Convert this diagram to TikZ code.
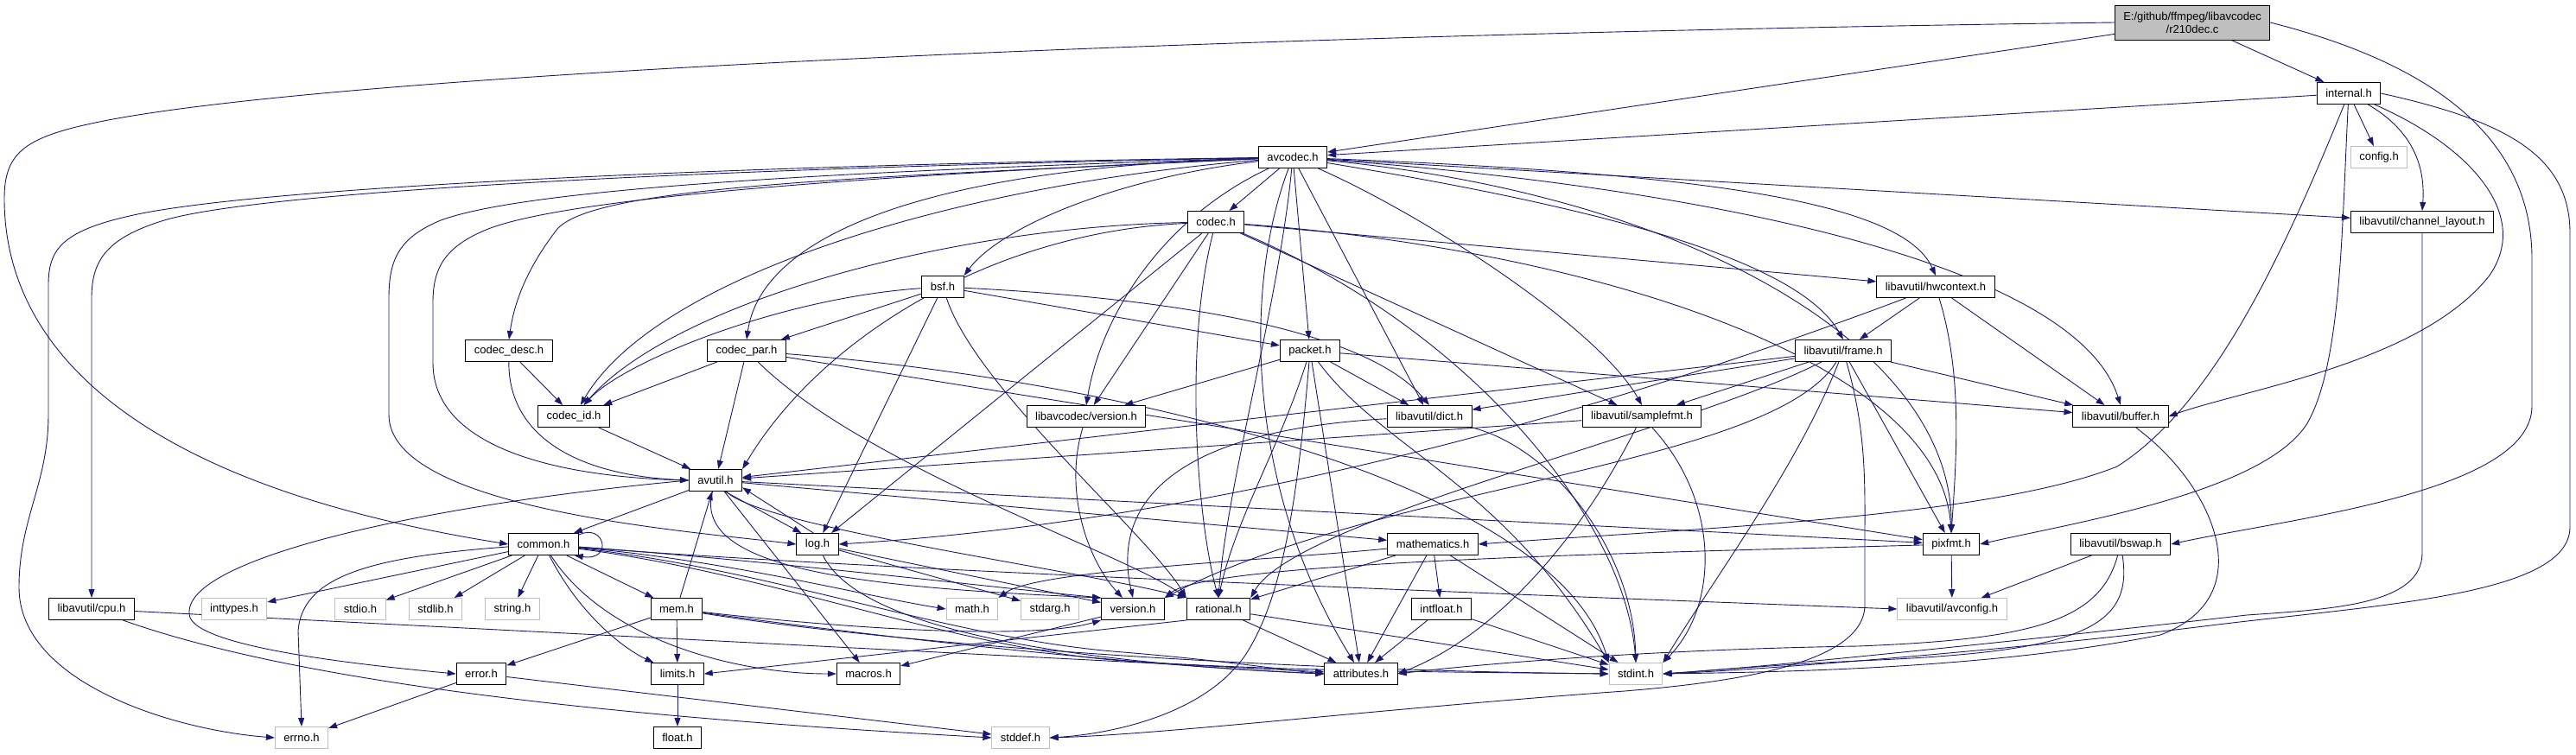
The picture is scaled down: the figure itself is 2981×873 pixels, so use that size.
\documentclass[tikz,border=0pt]{standalone}
\usepackage{fontspec}
\setmainfont{Liberation Sans}
\usetikzlibrary{arrows.meta}
\definecolor{edgec}{HTML}{191970}
\definecolor{gbord}{HTML}{BFBFBF}
\pgfdeclarelayer{back}
\pgfdeclarelayer{bg}
\pgfsetlayers{back,bg,main}
\begin{document}
\begin{tikzpicture}[x=1pt,y=-1pt,
  nd/.style={draw=black,line width=1pt,fill=white,minimum height=25pt,inner xsep=10pt,inner ysep=0pt,font=\fontsize{13}{15}\selectfont},
  gnd/.style={nd,draw=gbord},
  rootnd/.style={nd,fill=gbord,minimum height=40pt,align=center},
  e/.style={draw=edgec,line width=0.9pt,-{Triangle[length=10pt,width=7pt]}}]
\begin{pgfonlayer}{back}
\fill[white] (0,0) rectangle (2981,873);
\end{pgfonlayer}
\useasboundingbox (0,0) rectangle (2981,873);
% nodes
\node[rootnd] (root) at (2537,26) {E:/github/ffmpeg/libavcodec\\/r210dec.c};
\node[nd] (internal) at (2718,108) {internal.h};
\node[gnd] (config) at (2753,182) {config.h};
\node[nd] (chlayout) at (2803,257) {libavutil/channel\_layout.h};
\node[nd] (avcodec) at (1496,182) {avcodec.h};
\node[nd] (codec) at (1407,257) {codec.h};
\node[nd] (bsf) at (1091,332) {bsf.h};
\node[nd] (hwcontext) at (2240,332) {libavutil/hwcontext.h};
\node[nd] (codecdesc) at (589,406) {codec\_desc.h};
\node[nd] (codecpar) at (864,406) {codec\_par.h};
\node[nd] (packet) at (1516,406) {packet.h};
\node[nd] (frame) at (2133,406) {libavutil/frame.h};
\node[nd] (codecid) at (664,482) {codec\_id.h};
\node[nd] (lcversion) at (1257,482) {libavcodec/version.h};
\node[nd] (dict) at (1654,482) {libavutil/dict.h};
\node[nd] (samplefmt) at (1900,482) {libavutil/samplefmt.h};
\node[nd] (buffer) at (2454,482) {libavutil/buffer.h};
\node[nd] (avutil) at (828,556) {avutil.h};
\node[nd] (common) at (629,630) {common.h};
\node[nd] (log) at (946,630) {log.h};
\node[nd] (mathematics) at (1658,630) {mathematics.h};
\node[nd] (pixfmt) at (2258,630) {pixfmt.h};
\node[nd] (bswap) at (2454,630) {libavutil/bswap.h};
\node[nd] (cpu) at (106,705) {libavutil/cpu.h};
\node[gnd] (inttypes) at (271,705) {inttypes.h};
\node[gnd] (stdio) at (417,705) {stdio.h};
\node[gnd] (stdlib) at (504,705) {stdlib.h};
\node[gnd] (string) at (593,705) {string.h};
\node[nd] (mem) at (783,705) {mem.h};
\node[gnd] (math) at (1125,705) {math.h};
\node[gnd] (stdarg) at (1215,705) {stdarg.h};
\node[nd] (version) at (1311,705) {version.h};
\node[nd] (rational) at (1410,705) {rational.h};
\node[nd] (intfloat) at (1668,705) {intfloat.h};
\node[gnd] (avconfig) at (2259,705) {libavutil/avconfig.h};
\node[nd] (error) at (557,780) {error.h};
\node[nd] (limits) at (784,780) {limits.h};
\node[nd] (macros) at (1005,780) {macros.h};
\node[nd] (attributes) at (1575,780) {attributes.h};
\node[gnd] (stdint) at (1893,780) {stdint.h};
\node[gnd] (errno) at (349,854) {errno.h};
\node[nd] (float) at (784,854) {float.h};
\node[gnd] (stddef) at (1181,854) {stddef.h};
\begin{pgfonlayer}{bg}
% root
\draw[e] (root) -- (avcodec);
\draw[e] (root) -- (internal);
\draw[e] (root.west) .. controls (1400,40) and (400,85) .. (120,140) .. controls (30,158) and (5,175) .. (5,230) .. controls (5,400) and (150,560) .. (common.west);
\draw[e] (root.east) .. controls (2800,70) and (2930,150) .. (2930,300) -- (2930,470) .. controls (2930,570) and (2650,600) .. (bswap.east);
% internal
\draw[e] (internal) -- (avcodec);
\draw[e] (internal) -- (config);
\draw[e] (internal) .. controls (2790,150) and (2807,190) .. (chlayout.north);
\draw[e] (internal) .. controls (2640,300) and (2560,470) .. (2450,540) .. controls (2300,600) and (1950,612) .. (mathematics.east);
\draw[e] (internal) .. controls (2710,260) and (2710,420) .. (2670,490) .. controls (2620,570) and (2400,605) .. (pixfmt.east);
\draw[e] (internal) .. controls (2860,170) and (2930,250) .. (2880,320) .. controls (2800,420) and (2600,450) .. (buffer.east);
\draw[e] (internal.east) .. controls (2900,140) and (2974,180) .. (2974,270) -- (2974,610) .. controls (2974,690) and (2750,700) .. (2550,725) .. controls (2350,750) and (2050,775) .. (stdint.east);
% channel layout
\draw[e] (chlayout) -- (2803,640) .. controls (2803,700) and (2700,705) .. (2600,712) .. controls (2400,735) and (2050,772) .. (stdint.east);
% avcodec
\draw[e] (avcodec) .. controls (900,190) and (300,215) .. (150,250) .. controls (70,268) and (56,290) .. (56,330) -- (56,480) .. controls (56,560) and (22,600) .. (22,680) .. controls (22,790) and (200,845) .. (errno.west);
\draw[e] (avcodec) .. controls (800,195) and (300,222) .. (190,255) .. controls (125,275) and (106,300) .. (106,345) -- (cpu.north);
\draw[e] (avcodec) .. controls (900,200) and (600,222) .. (510,255) .. controls (462,275) and (450,300) .. (450,345) -- (450,480) .. controls (450,590) and (800,615) .. (log.west);
\draw[e] (avcodec) .. controls (950,205) and (650,232) .. (565,265) .. controls (515,285) and (501,310) .. (501,350) -- (501,420) .. controls (501,520) and (650,552) .. (avutil.west);
\draw[e] (avcodec) .. controls (1000,205) and (690,215) .. (645,265) .. controls (610,310) and (595,350) .. (codecdesc.north);
\draw[e] (avcodec) .. controls (1050,195) and (880,280) .. (codecpar.north);
\draw[e] (avcodec) .. controls (1300,205) and (1160,260) .. (bsf.north east);
\draw[e] (avcodec) -- (codec);
\draw[e] (avcodec) .. controls (1100,215) and (760,320) .. (codecid);
\draw[e] (avcodec) .. controls (1350,250) and (1275,360) .. (lcversion.north);
\draw[e] (avcodec) -- (packet);
\draw[e] (avcodec) -- (dict);
\draw[e] (avcodec) .. controls (1650,250) and (1850,380) .. (samplefmt.north);
\draw[e] (avcodec) .. controls (1440,330) and (1440,560) .. (attributes);
\draw[e] (avcodec) .. controls (1480,350) and (1420,560) .. (rational.north);
\draw[e] (avcodec) .. controls (1950,215) and (2400,300) .. (buffer.north);
\draw[e] (avcodec) -- (chlayout);
\draw[e] (avcodec) .. controls (1950,225) and (2260,400) .. (pixfmt.north);
\draw[e] (avcodec) .. controls (1850,240) and (2080,300) .. (frame.north);
\draw[e] (avcodec) .. controls (1950,200) and (2200,230) .. (hwcontext.north);
% codec
\draw[e] (codec) .. controls (1700,380) and (1880,600) .. (stdint.north);
\draw[e] (codec) .. controls (1150,268) and (950,390) .. (avutil.north east);
\draw[e] (codec) -- (hwcontext);
\draw[e] (codec) -- (log);
\draw[e] (codec) .. controls (1850,290) and (2245,420) .. (pixfmt.north);
\draw[e] (codec) .. controls (1370,400) and (1385,600) .. (rational.north);
\draw[e] (codec) -- (samplefmt);
\draw[e] (codec) .. controls (1100,262) and (780,350) .. (codecid);
\draw[e] (codec) -- (lcversion);
% bsf
\draw[e] (bsf) .. controls (1350,345) and (1580,380) .. (dict.north);
\draw[e] (bsf) -- (log);
\draw[e] (bsf) .. controls (1130,450) and (1330,620) .. (rational.north west);
\draw[e] (bsf) .. controls (900,345) and (720,420) .. (codecid);
\draw[e] (bsf) -- (codecpar);
\draw[e] (bsf) -- (packet);
% codec_desc, codec_id
\draw[e] (codecdesc) .. controls (588,500) and (660,550) .. (avutil.west);
\draw[e] (codecdesc) -- (codecid);
\draw[e] (codecid) -- (avutil);
% codec_par
\draw[e] (codecpar) .. controls (1300,440) and (1800,560) .. (stdint.north west);
\draw[e] (codecpar) -- (avutil);
\draw[e] (codecpar) .. controls (1000,540) and (1300,640) .. (rational.north west);
\draw[e] (codecpar) -- (pixfmt);
\draw[e] (codecpar) -- (codecid);
% packet
\draw[e] (packet) .. controls (1500,600) and (1480,700) .. (1440,760) .. controls (1390,830) and (1280,850) .. (stddef.east);
\draw[e] (packet) .. controls (1600,520) and (1740,560) .. (stdint.north west);
\draw[e] (packet) -- (attributes);
\draw[e] (packet) -- (buffer);
\draw[e] (packet) -- (dict);
\draw[e] (packet) .. controls (1480,520) and (1430,600) .. (rational.north);
\draw[e] (packet) -- (lcversion);
% libavcodec/version
\draw[e] (lcversion) .. controls (1230,570) and (1260,650) .. (version);
% hwcontext
\draw[e] (hwcontext) -- (buffer);
\draw[e] (hwcontext) -- (frame);
\draw[e] (hwcontext) .. controls (1900,460) and (1450,600) .. (log.east);
\draw[e] (hwcontext) .. controls (2270,430) and (2265,520) .. (pixfmt.north);
% frame
\draw[e] (frame) .. controls (2160,500) and (2158,560) .. (2158,620) -- (2158,700) .. controls (2158,770) and (2000,790) .. (1880,800) .. controls (1600,820) and (1350,850) .. (stddef.east);
\draw[e] (frame) .. controls (2080,540) and (1990,660) .. (stdint.north east);
\draw[e] (frame) -- (avutil);
\draw[e] (frame) -- (buffer);
\draw[e] (frame) -- (dict);
\draw[e] (frame) .. controls (1950,500) and (1500,600) .. (rational.north east);
\draw[e] (frame) -- (samplefmt);
\draw[e] (frame) -- (pixfmt);
\draw[e] (frame) .. controls (2050,540) and (1600,560) .. (version.north east);
% samplefmt
\draw[e] (samplefmt) -- (avutil);
\draw[e] (samplefmt) .. controls (1820,640) and (1720,740) .. (attributes.east);
\draw[e] (samplefmt) .. controls (1990,580) and (1990,700) .. (stdint.north east);
% dict
\draw[e] (dict) .. controls (1330,500) and (1290,600) .. (version.north);
\draw[e] (dict) .. controls (1800,520) and (1890,640) .. (stdint.north);
% buffer
\draw[e] (buffer) .. controls (2560,560) and (2620,690) .. (2500,735) .. controls (2300,775) and (2050,778) .. (stdint.east);
% pixfmt
\draw[e] (pixfmt) -- (avconfig);
\draw[e] (pixfmt) .. controls (1900,640) and (1400,650) .. (version.north east);
% bswap
\draw[e] (bswap) -- (avconfig);
\draw[e] (bswap) .. controls (2430,720) and (2350,740) .. (2150,748) .. controls (1900,752) and (1700,770) .. (attributes.east);
\draw[e] (bswap) .. controls (2470,730) and (2400,755) .. (2150,765) .. controls (2050,770) and (1980,776) .. (stdint.east);
% avutil
\draw[e] (avutil) -- (common);
\draw[e] (avutil.west) .. controls (480,585) and (200,650) .. (220,715) .. controls (235,750) and (420,770) .. (error.west);
\draw[e] (avutil) .. controls (800,660) and (1000,680) .. (version.north west);
\draw[e] (avutil) -- (macros);
\draw[e] (avutil) .. controls (880,610) and (1250,660) .. (rational.north west);
\draw[e] (avutil) -- (mathematics);
\draw[e] (avutil) -- (pixfmt);
\draw[e] (avutil.-50) -- (log.145);
\draw[e] (log.110) -- (avutil.-15);
% common
\draw[e] (common) .. controls (420,645) and (350,670) .. (345,730) -- (errno.north);
\draw[e] (common) -- (inttypes);
\draw[e] (common) -- (stdio);
\draw[e] (common) -- (stdlib);
\draw[e] (common) -- (string);
\draw[e] (common) -- (mem);
\draw[e] (common) .. controls (670,710) and (720,750) .. (limits);
\draw[e] (common) .. controls (700,740) and (850,780) .. (macros.west);
\draw[e] (common) .. controls (900,660) and (1100,740) .. (1300,755) .. controls (1420,765) and (1480,775) .. (attributes.west);
\draw[e] (common) .. controls (900,665) and (1100,750) .. (1300,765) .. controls (1500,778) and (1700,778) .. (stdint.west);
\draw[e] (common) .. controls (850,650) and (1000,690) .. (math.west);
\draw[e] (common) .. controls (900,650) and (1150,680) .. (version.north west);
\draw[e] (common) .. controls (1000,660) and (1800,690) .. (avconfig.west);
\draw[e] (common.15) .. controls (700,605) and (710,650) .. (common.-20);
% mem
\draw[e] (mem) -- (avutil);
\draw[e] (mem) -- (limits);
\draw[e] (mem) -- (error);
\draw[e] (mem) .. controls (1000,735) and (1300,770) .. (attributes.west);
\draw[e] (mem) .. controls (1000,740) and (1400,775) .. (stdint.west);
\draw[e] (mem) .. controls (1000,730) and (1200,740) .. (version.south west);
% error
\draw[e] (error) -- (errno);
\draw[e] (error) -- (stddef);
% log
\draw[e] (log) -- (stdarg);
\draw[e] (log) .. controls (1000,740) and (1300,770) .. (attributes.west);
\draw[e] (log) -- (version);
% mathematics
\draw[e] (mathematics) .. controls (1450,650) and (1200,660) .. (math.north east);
\draw[e] (mathematics) -- (rational);
\draw[e] (mathematics) -- (attributes);
\draw[e] (mathematics) -- (intfloat);
\draw[e] (mathematics) -- (stdint);
\draw[e] (intfloat) -- (attributes);
\draw[e] (intfloat) -- (stdint);
% rational
\draw[e] (rational.south west) -- (limits.east);
\draw[e] (rational) -- (attributes);
\draw[e] (rational) -- (stdint);
% version
\draw[e] (version) -- (macros);
% cpu
\draw[e] (cpu) -- (attributes);
\draw[e] (cpu) .. controls (400,810) and (900,840) .. (stddef.west);
% limits
\draw[e] (limits) -- (float);
\end{pgfonlayer}
\end{tikzpicture}
\end{document}
